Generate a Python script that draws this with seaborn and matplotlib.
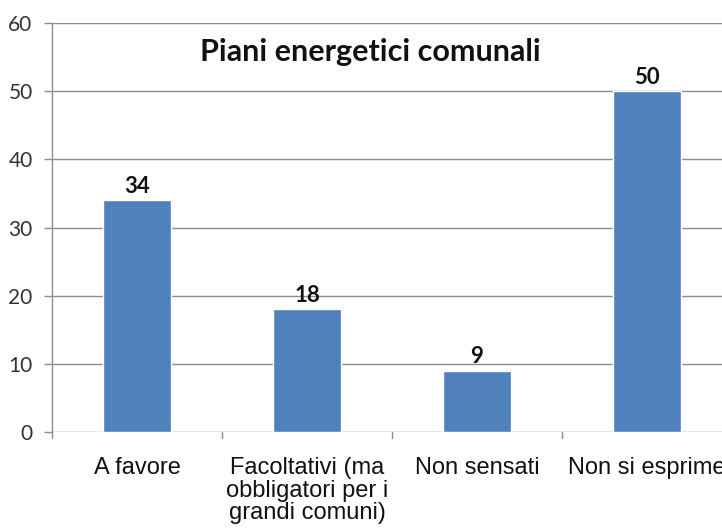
import matplotlib
matplotlib.use("Agg")
import matplotlib.pyplot as plt
import seaborn as sns
import pandas as pd

categories = ["A favore", "Facoltativi (ma\nobbligatori per i\ngrandi comuni)", "Non sensati", "Non si esprime"]
values = [34, 18, 9, 50]
y_ticks = [0, 10, 20, 30, 40, 50, 60]
title = "Piani energetici comunali"

sns.set_theme(style="white")
plt.rcParams["font.family"] = ["Liberation Sans", "DejaVu Sans"]

df = pd.DataFrame({"categoria": categories, "valore": values})

fig = plt.figure(figsize=(7.22, 5.30), dpi=100)
# plot area runs past the right edge of the canvas, as in the original layout
ax = fig.add_axes([52 / 722, 98 / 530, 680 / 722, 409 / 530])

sns.barplot(data=df, x="categoria", y="valore", color="#4F81BD", saturation=1,
            width=0.4, ax=ax, zorder=3)

ax.set_ylim(0, 60)
ax.set_xlim(-0.5, 3.5)
ax.set_yticks(y_ticks)
ax.set_xlabel("")
ax.set_ylabel("")

# horizontal gridlines
for t in y_ticks:
    ax.axhline(t, color="#8c8c8c", lw=1.0, zorder=1)

for side in ["top", "right", "bottom"]:
    ax.spines[side].set_visible(False)
ax.spines["left"].set_color("#8c8c8c")
ax.spines["left"].set_linewidth(1.0)

ax.tick_params(axis="y", left=True, length=6, width=1, color="#8c8c8c",
               labelsize=15, labelcolor="#333333", pad=8)
ax.tick_params(axis="x", bottom=False, labelsize=17, labelcolor="#111111", pad=12)

for lbl in ax.get_xticklabels():
    lbl.set_linespacing(1.04)

# category separators below the axis
for b in [-0.5, 0.5, 1.5, 2.5, 3.5]:
    ax.plot([b, b], [0, -0.9], color="#8c8c8c", lw=1, clip_on=False)

for lbl in ax.get_yticklabels():
    lbl.set_fontfamily(["Lato", "DejaVu Sans"])

# value labels above bars
for i, v in enumerate(values):
    ax.text(i, v + 0.5, str(v), ha="center", va="bottom", fontsize=16,
            fontweight="bold", family=["Lato", "DejaVu Sans"], color="#111111", zorder=4)

fig.text(370 / 722, 1 - 52 / 530, title, ha="center", va="center", fontsize=22,
         fontweight="bold", family=["Lato", "DejaVu Sans"], color="#111111")

fig.savefig("out.png", dpi=100)
